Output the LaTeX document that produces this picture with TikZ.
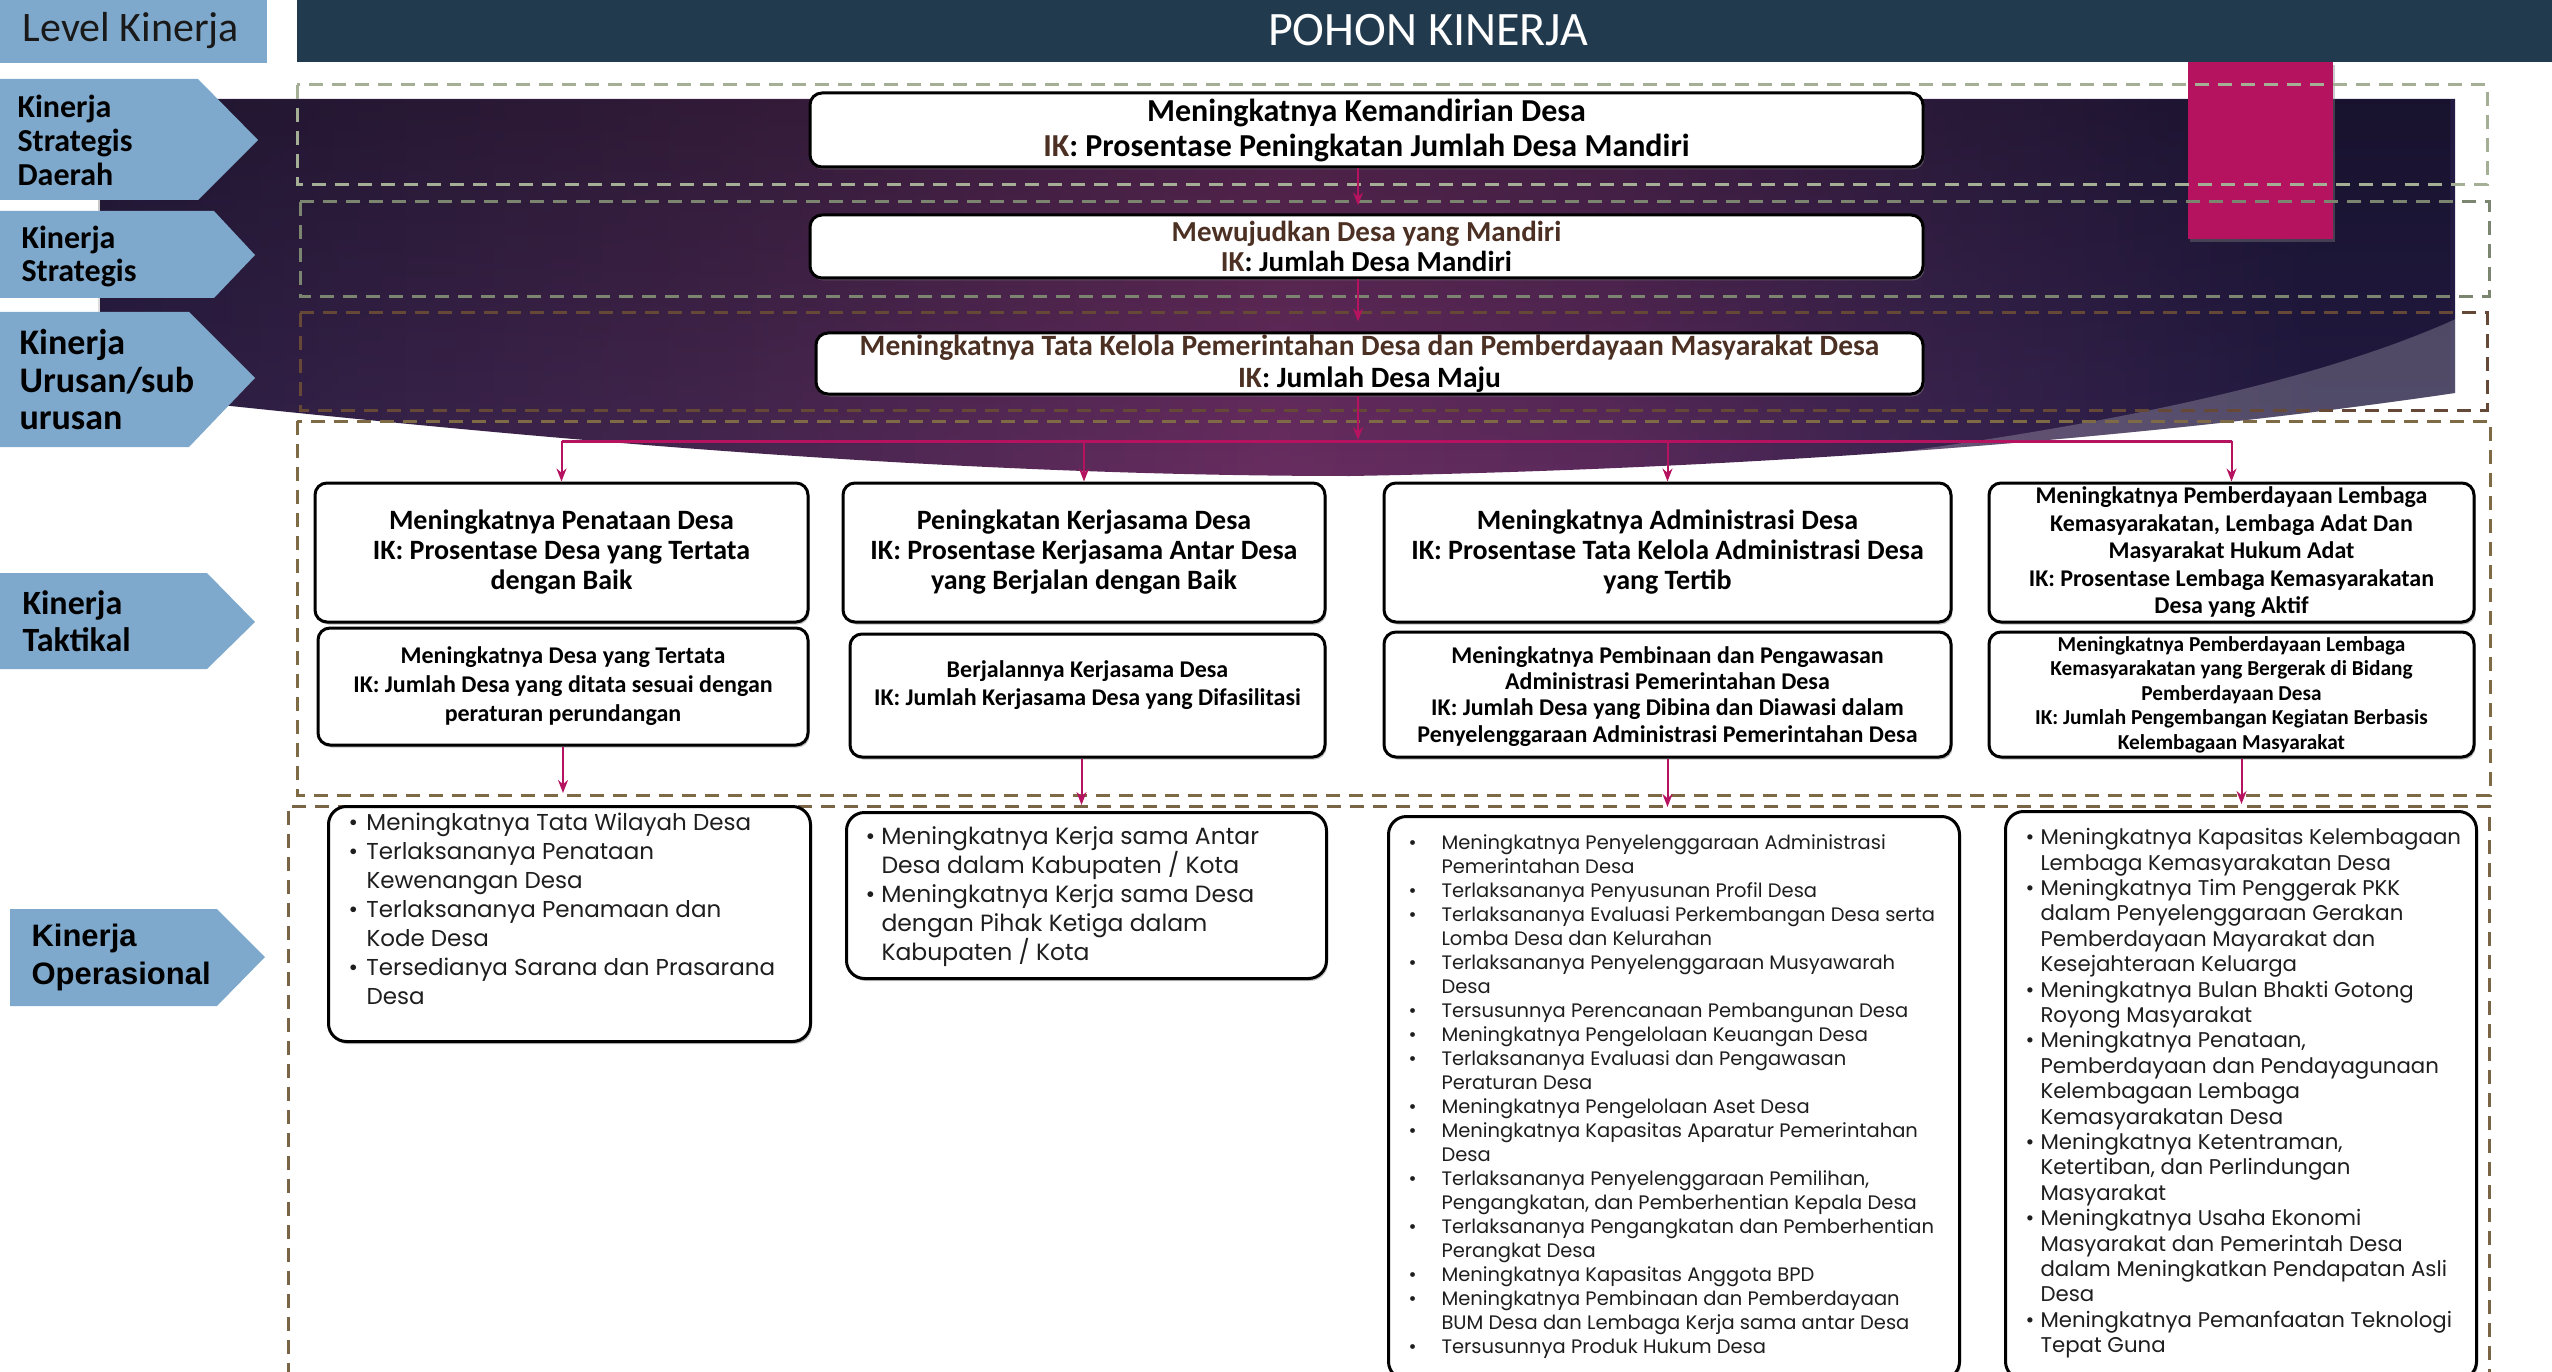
\documentclass[tikz,border=0pt]{standalone}
\usepackage{fontspec}
\newfontfamily\carl{Carlito}
\newfontfamily\gothic{Poppins}
\newfontfamily\arialb{Liberation Sans}
\usetikzlibrary{arrows.meta,shadows,fadings,calc}
\definecolor{hdr}{HTML}{223A4E}
\definecolor{lvl}{HTML}{7FA9CC}
\definecolor{mag}{HTML}{B5135F}
\definecolor{ink}{HTML}{4B3023}
\definecolor{fA}{HTML}{A5AF96}
\definecolor{fB}{HTML}{7B8570}
\definecolor{fC}{HTML}{654835}
\definecolor{fD}{HTML}{7E6A45}
\definecolor{fE}{HTML}{7A6446}
\definecolor{pA}{HTML}{2C1F46}
\definecolor{pB}{HTML}{45264F}
\definecolor{pC}{HTML}{682D60}
\definecolor{pD}{HTML}{5A2A5B}
\definecolor{pE}{HTML}{3B2450}
\definecolor{pF}{HTML}{231B43}
\definecolor{txt}{HTML}{1E1E1E}
\pgfdeclarehorizontalshading{purp}{100bp}{color(0bp)=(pA); color(25bp)=(pA); color(38bp)=(pB); color(50bp)=(pC); color(57bp)=(pD); color(64bp)=(pE); color(72bp)=(pF); color(100bp)=(pF)}
\newcommand\fs[2]{\fontsize{#1}{#2}\selectfont}
\newcommand\itm[2]{\mbox{\makebox[#1][l]{\textbullet}#2}}
\newcommand\cnt[2]{\mbox{\hspace*{#1}#2}}
\begin{document}
\begin{tikzpicture}[x=1pt,y=-1pt,
  frame/.style={line width=3pt, dash pattern=on 14pt off 9pt},
  box/.style={draw=black, line width=3pt, fill=white, rounded corners=12pt,
    drop shadow={shadow xshift=1.5pt, shadow yshift=-2.5pt, opacity=.5},
    align=center, inner sep=0pt},
  ob/.style={draw=black, line width=3pt, fill=white, rounded corners=18pt,
    drop shadow={shadow xshift=1.5pt, shadow yshift=-2.5pt, opacity=.5},
    anchor=north west, text=txt},
  arr/.style={draw=mag, line width=2pt, -{Stealth[length=13pt,width=10pt]}},
  lbltxt/.style={anchor=west, align=left, text=black}]
\useasboundingbox (0,0) rectangle (2552,1372);
% header
\fill[lvl] (0,0) rectangle (267,63);
\node[font=\carl\fs{42}{48}, text=black!90] (lvltxt) at (131,31) {Level Kinerja};
\fill[hdr] (297,0) rectangle (2552,62);
\node[font=\carl\fs{48}{52}, text=white] (title) at (1428,30) {POHON KINERJA};
% purple ribbon
\def\silh{(100,99) -- (2455,99) -- (2455,393) .. controls (2100,445) and (1700,470) .. (1350,476) .. controls (900,476) and (450,430) .. (100,392) -- cycle}
\shade[shading=purp] \silh;
\fill[black, opacity=.3, path fading=south] \silh;
\begin{scope}
  \clip \silh;
  \fill[white, opacity=.22] (1819,462) .. controls (2050,435) and (2300,390) .. (2458,318) -- (2600,318) -- (2600,600) -- (1819,600) -- cycle;
\end{scope}
% magenta bar
\fill[mag, drop shadow={shadow xshift=2pt, shadow yshift=-3pt, opacity=.4}] (2188,62) rectangle (2333,239);
% level chevrons
\fill[lvl] (0,79) -- (198,79) -- (258,140) -- (198,200) -- (0,200) -- cycle;
\node[lbltxt, font=\carl\bfseries\fs{32}{34}] (c1) at (14,140) {Kinerja\\Strategis\\Daerah};
\fill[lvl] (0,211) -- (214,211) -- (255,255) -- (214,298) -- (0,298) -- cycle;
\node[lbltxt, font=\carl\bfseries\fs{32}{33}] (c2) at (18,256) {Kinerja\\Strategis};
\fill[lvl] (0,312) -- (189,312) -- (255,378) -- (189,447) -- (0,447) -- cycle;
\node[lbltxt, font=\carl\bfseries\fs{36}{37.5}] (c3) at (16,380) {Kinerja\\Urusan/sub\\urusan};
\fill[lvl] (0,573) -- (207,573) -- (255,622) -- (207,669) -- (0,669) -- cycle;
\node[lbltxt, font=\carl\bfseries\fs{34}{37}] (c4) at (19,621) {Kinerja\\Taktikal};
\fill[lvl] (10,909) -- (217,909) -- (265,957) -- (217,1006) -- (10,1006) -- cycle;
\node[lbltxt, font=\arialb\bfseries\fs{31}{38}] (c5) at (28,957) {Kinerja\\Operasional};
% frames
\draw[frame, fA] (297,85) rectangle (2487,185);
\draw[frame, fB] (300,202) rectangle (2489,297);
\draw[frame, fC] (300,313) rectangle (2487,410);
\draw[frame, fD] (297,421) rectangle (2490,795);
\draw[frame, fE] (288,1400) -- (288,806) -- (2489,806) -- (2489,1400);
% strategic boxes
\node[box, minimum width=1113pt, minimum height=74pt, font=\carl\bfseries\fs{32}{35}] (A) at (1366.5,130)
  {Meningkatnya Kemandirian Desa\\\textcolor{ink}{IK}: Prosentase Peningkatan Jumlah Desa Mandiri};
\node[box, minimum width=1113pt, minimum height=63pt, font=\carl\bfseries\fs{29}{30}] (B) at (1366.5,246.5)
  {\textcolor{ink}{Mewujudkan Desa yang Mandiri}\\\textcolor{ink}{IK}: Jumlah Desa Mandiri};
\node[box, minimum width=1107pt, minimum height=61pt, font=\carl\bfseries\fs{29.5}{32}] (C) at (1369.5,363.5)
  {\textcolor{ink}{Meningkatnya Tata Kelola Pemerintahan Desa dan Pemberdayaan Masyarakat Desa}\\\textcolor{ink}{IK}: Jumlah Desa Maju};
% tactical boxes
\node[box, minimum width=493pt, minimum height=139pt, font=\carl\bfseries\fs{28}{30}] (T1a) at (561.5,552.5)
  {Meningkatnya Penataan Desa\\IK: Prosentase Desa yang Tertata\\dengan Baik};
\node[box, minimum width=482pt, minimum height=139pt, font=\carl\bfseries\fs{28}{30}] (T2a) at (1084,552.5)
  {Peningkatan Kerjasama Desa\\IK: Prosentase Kerjasama Antar Desa\\yang Berjalan dengan Baik};
\node[box, minimum width=567pt, minimum height=139pt, font=\carl\bfseries\fs{28}{30}] (T3a) at (1667.5,552.5)
  {Meningkatnya Administrasi Desa\\IK: Prosentase Tata Kelola Administrasi Desa\\yang Tertib};
\node[box, minimum width=485pt, minimum height=139pt, font=\carl\bfseries\fs{24}{27.5}] (T4a) at (2231.5,552.5)
  {Meningkatnya Pemberdayaan Lembaga\\Kemasyarakatan, Lembaga Adat Dan\\Masyarakat Hukum Adat\\IK: Prosentase Lembaga Kemasyarakatan\\Desa yang Aktif};
\node[box, minimum width=490pt, minimum height=117pt, font=\carl\bfseries\fs{24}{29}] (T1b) at (563,686.5)
  {Meningkatnya Desa yang Tertata\\IK: Jumlah Desa yang ditata sesuai dengan\\peraturan perundangan};
\node[box, minimum width=475pt, minimum height=123pt, font=\carl\bfseries\fs{24}{28}] (T2b) at (1087.5,695.5)
  {Berjalannya Kerjasama Desa\\IK: Jumlah Kerjasama Desa yang Difasilitasi\\[-4pt]\mbox{}};
\node[box, minimum width=567pt, minimum height=125pt, font=\carl\bfseries\fs{24}{26.3}] (T3b) at (1667.5,694.5)
  {\mbox{}\\[-6pt]Meningkatnya Pembinaan dan Pengawasan\\Administrasi Pemerintahan Desa\\IK: Jumlah Desa yang Dibina dan Diawasi dalam\\Penyelenggaraan Administrasi Pemerintahan Desa};
\node[box, minimum width=485pt, minimum height=125pt, font=\carl\bfseries\fs{21.3}{24.5}] (T4b) at (2231.5,694.5)
  {Meningkatnya Pemberdayaan Lembaga\\Kemasyarakatan yang Bergerak di Bidang\\Pemberdayaan Desa\\IK: Jumlah Pengembangan Kegiatan Berbasis\\Kelembagaan Masyarakat};
% operational boxes
\node[ob, inner xsep=20pt, inner ysep=6pt, font=\gothic\fs{23}{29}] (O1) at (327,805)
  {\parbox[t][223pt][t]{442pt}{
   \itm{18pt}{Meningkatnya Tata Wilayah Desa}\\
   \itm{18pt}{Terlaksananya Penataan}\\
   \cnt{18pt}{Kewenangan Desa}\\
   \itm{18pt}{Terlaksananya Penamaan dan}\\
   \cnt{18pt}{Kode Desa}\\
   \itm{18pt}{Tersedianya Sarana dan Prasarana}\\
   \cnt{18pt}{Desa}}};
\node[ob, inner xsep=19pt, inner ysep=14pt, font=\gothic\fs{23.5}{29}] (O2) at (845,811)
  {\parbox[t][138pt][t]{442pt}{
   \itm{16pt}{Meningkatnya Kerja sama Antar}\\
   \cnt{16pt}{Desa dalam Kabupaten / Kota}\\
   \itm{16pt}{Meningkatnya Kerja sama Desa}\\
   \cnt{16pt}{dengan Pihak Ketiga dalam}\\
   \cnt{16pt}{Kabupaten / Kota}}};
\node[ob, inner xsep=20pt, inner ysep=18pt, font=\gothic\fs{19.5}{24}] (O3) at (1387,815)
  {\parbox[t][527pt][t]{531pt}{
   \itm{33pt}{Meningkatnya Penyelenggaraan Administrasi}\\
   \cnt{33pt}{Pemerintahan Desa}\\
   \itm{33pt}{Terlaksananya Penyusunan Profil Desa}\\
   \itm{33pt}{Terlaksananya Evaluasi Perkembangan Desa serta}\\
   \cnt{33pt}{Lomba Desa dan Kelurahan}\\
   \itm{33pt}{Terlaksananya Penyelenggaraan Musyawarah}\\
   \cnt{33pt}{Desa}\\
   \itm{33pt}{Tersusunnya Perencanaan Pembangunan Desa}\\
   \itm{33pt}{Meningkatnya Pengelolaan Keuangan Desa}\\
   \itm{33pt}{Terlaksananya Evaluasi dan Pengawasan}\\
   \cnt{33pt}{Peraturan Desa}\\
   \itm{33pt}{Meningkatnya Pengelolaan Aset Desa}\\
   \itm{33pt}{Meningkatnya Kapasitas Aparatur Pemerintahan}\\
   \cnt{33pt}{Desa}\\
   \itm{33pt}{Terlaksananya Penyelenggaraan Pemilihan,}\\
   \cnt{33pt}{Pengangkatan, dan Pemberhentian Kepala Desa}\\
   \itm{33pt}{Terlaksananya Pengangkatan dan Pemberhentian}\\
   \cnt{33pt}{Perangkat Desa}\\
   \itm{33pt}{Meningkatnya Kapasitas Anggota BPD}\\
   \itm{33pt}{Meningkatnya Pembinaan dan Pemberdayaan}\\
   \cnt{33pt}{BUM Desa dan Lembaga Kerja sama antar Desa}\\
   \itm{33pt}{Tersusunnya Produk Hukum Desa}}};
\node[ob, inner xsep=20pt, inner ysep=17pt, font=\gothic\fs{21.3}{25.4}] (O4) at (2004,810)
  {\parbox[t][534pt][t]{431pt}{
   \itm{15pt}{Meningkatnya Kapasitas Kelembagaan}\\
   \cnt{15pt}{Lembaga Kemasyarakatan Desa}\\
   \itm{15pt}{Meningkatnya Tim Penggerak PKK}\\
   \cnt{15pt}{dalam Penyelenggaraan Gerakan}\\
   \cnt{15pt}{Pemberdayaan Mayarakat dan}\\
   \cnt{15pt}{Kesejahteraan Keluarga}\\
   \itm{15pt}{Meningkatnya Bulan Bhakti Gotong}\\
   \cnt{15pt}{Royong Masyarakat}\\
   \itm{15pt}{Meningkatnya Penataan,}\\
   \cnt{15pt}{Pemberdayaan dan Pendayagunaan}\\
   \cnt{15pt}{Kelembagaan Lembaga}\\
   \cnt{15pt}{Kemasyarakatan Desa}\\
   \itm{15pt}{Meningkatnya Ketentraman,}\\
   \cnt{15pt}{Ketertiban, dan Perlindungan}\\
   \cnt{15pt}{Masyarakat}\\
   \itm{15pt}{Meningkatnya Usaha Ekonomi}\\
   \cnt{15pt}{Masyarakat dan Pemerintah Desa}\\
   \cnt{15pt}{dalam Meningkatkan Pendapatan Asli}\\
   \cnt{15pt}{Desa}\\
   \itm{15pt}{Meningkatnya Pemanfaatan Teknologi}\\
   \cnt{15pt}{Tepat Guna}}};
% connectors
\coordinate (ax) at (1358,0);
\coordinate (bus) at (0,441);
\draw[arr, shorten >=8pt] (A.south -| ax) -- (B.north -| ax);
\draw[arr, shorten >=10pt] (B.south -| ax) -- (C.north -| ax);
\draw[arr, shorten >=1pt] (C.south -| ax) -- (bus -| ax);
\draw[mag, line width=3pt] (T1a.north |- bus) -- (T4a.north |- bus);
\draw[arr] (T1a.north |- bus) -- (T1a.north);
\draw[arr] (T2a.north |- bus) -- (T2a.north);
\draw[arr] (T3a.north |- bus) -- (T3a.north);
\draw[arr] (T4a.north |- bus) -- (T4a.north);
\draw[arr, shorten >=12pt] (T1b.south) -- (T1b.south |- O1.north);
\draw[arr, shorten >=6pt] ($(T2b.south)+(-6,0)$) -- ($(T2b.south |- O2.north)+(-6,0)$);
\draw[arr, shorten >=8pt] (T3b.south) -- (T3b.south |- O3.north);
\draw[arr, shorten >=6pt] ($(T4b.south)+(10,0)$) -- ($(T4b.south |- O4.north)+(10,0)$);
\end{tikzpicture}
\end{document}
